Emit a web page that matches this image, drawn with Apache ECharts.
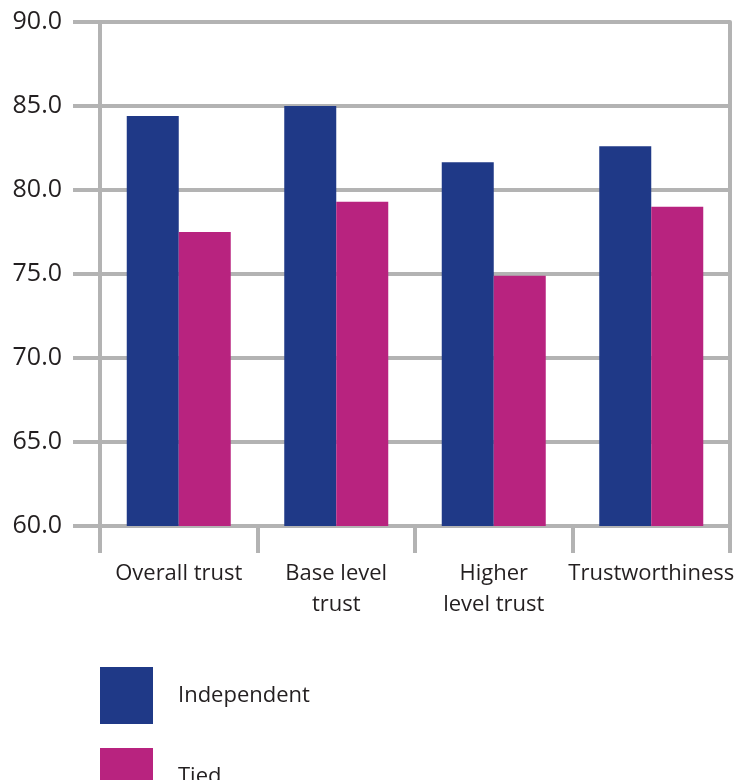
<!DOCTYPE html>
<html>
<head>
<meta charset="utf-8">
<script src="https://cdn.jsdelivr.net/npm/echarts@6/dist/echarts.min.js"></script>
<style>
  html, body { margin: 0; padding: 0; background: #fff; }
  #chart { width: 741px; height: 780px; }
</style>
</head>
<body>
<div id="chart"></div>
<script>
'use strict';
var categories = ['Overall trust', 'Base level\ntrust', 'Higher\nlevel trust', 'Trustworthiness'];
var independent = [84.4, 85.0, 81.65, 82.6];
var tied = [77.5, 79.3, 74.9, 79.0];
var yTicks = [60, 65, 70, 75, 80, 85, 90];

var gray = '#b3b3b3';
var textColor = '#231f20';
var font = 'Open Sans';

function legendFor(name, top) {
	return {
		left: 100,
		top: top,
		padding: 0,
		itemWidth: 53,
		itemHeight: 57,
		icon: 'rect',
		data: [name],
		textStyle: {
			fontFamily: font,
			fontSize: 22,
			color: textColor,
			padding: [0, 0, 6, 20]
		}
	};
}

var myBar = echarts.init(document.getElementById('chart'));
var option = {
	animation: false,
	grid: {
		left: 100,
		right: 11,
		top: 22,
		bottom: 254,
		containLabel: false
	},
	// two legends so the second one is not wrapped to the side
	legend: [legendFor('Independent', 667), legendFor('Tied', 748)],
	xAxis: {
		type: 'category',
		data: categories,
		axisLine: { show: true, lineStyle: { color: gray, width: 4 } },
		axisTick: { show: true, length: 27, lineStyle: { color: gray, width: 4 } },
		axisLabel: {
			margin: 32,
			fontFamily: font,
			fontSize: 22,
			lineHeight: 31,
			color: textColor,
			interval: 0
		}
	},
	yAxis: [{
		type: 'value',
		min: yTicks[0],
		max: yTicks[yTicks.length - 1],
		interval: 5,
		axisLine: { show: true, lineStyle: { color: gray, width: 4 } },
		axisTick: { show: true, length: 27, lineStyle: { color: gray, width: 4 } },
		splitLine: { show: true, lineStyle: { color: gray, width: 4 } },
		axisLabel: {
			margin: 38,
			fontFamily: font,
			fontSize: 25,
			color: textColor,
			formatter: function (v) { return v.toFixed(1); }
		}
	}, {
		type: 'value',
		position: 'right',
		min: yTicks[0],
		max: yTicks[yTicks.length - 1],
		interval: 5,
		axisLine: { show: true, lineStyle: { color: gray, width: 4 } },
		axisTick: { show: false },
		axisLabel: { show: false },
		splitLine: { show: false }
	}],
	series: [
		{
			name: 'Independent',
			type: 'bar',
			data: independent,
			barWidth: 52,
			barGap: '0%',
			itemStyle: { color: '#1f3987' }
		},
		{
			name: 'Tied',
			type: 'bar',
			data: tied,
			barWidth: 52,
			barGap: '0%',
			itemStyle: { color: '#b8237f' }
		}
	]
};
myBar.setOption(option);
</script>
</body>
</html>
